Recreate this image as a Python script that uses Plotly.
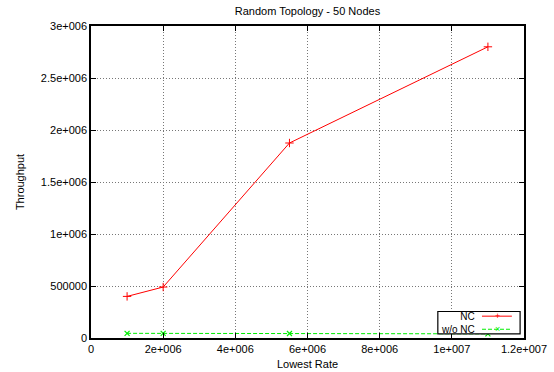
import plotly.graph_objects as go

rates = [1e6, 2e6, 5.5e6, 1.1e7]
nc = [400000, 490000, 1875000, 2800000]
wo_nc = [45000, 45000, 43000, 40000]

x_ticks = [0, 2e6, 4e6, 6e6, 8e6, 1e7, 1.2e7]
x_ticktext = ["0", "2e+006", "4e+006", "6e+006", "8e+006", "1e+007", "1.2e+007"]
y_ticks = [0, 5e5, 1e6, 1.5e6, 2e6, 2.5e6, 3e6]
y_ticktext = ["0", "500000", "1e+006", "1.5e+006", "2e+006", "2.5e+006", "3e+006"]

font = "Liberation Sans, Arial, sans-serif"

fig = go.Figure()
fig.add_trace(go.Scatter(
    x=rates, y=nc, mode="lines+markers", name="NC",
    line=dict(color="#ff0000", width=1),
    marker=dict(symbol="cross-thin-open", size=6, line=dict(color="#ff0000", width=1)),
    showlegend=False))
fig.add_trace(go.Scatter(
    x=rates, y=wo_nc, mode="lines+markers", name="w/o NC",
    line=dict(color="#00ee00", width=1, dash="4px,2px"),
    marker=dict(symbol="x-thin-open", size=5, line=dict(color="#00ee00", width=1.2)),
    showlegend=False))

axis_common = dict(
    showline=True, linecolor="black", linewidth=1.5, mirror="ticks",
    ticks="inside", ticklen=5, tickcolor="black", tickwidth=1,
    showgrid=True, gridcolor="#777777", griddash="1px,2px", gridwidth=1,
    zeroline=False, automargin=False,
    tickfont=dict(family=font, size=11, color="black"),
)

fig.update_xaxes(range=[0, 1.2e7], tickvals=x_ticks, ticktext=x_ticktext,
                 title=dict(text="Lowest Rate", font=dict(family=font, size=11, color="black"), standoff=6),
                 **axis_common)
fig.update_yaxes(range=[0, 3e6], tickvals=y_ticks, ticktext=y_ticktext,
                 title=dict(text="Throughput", font=dict(family=font, size=11, color="black"), standoff=14),
                 **axis_common)

# gnuplot-style key box (text then sample)
legend_names = ["NC", "w/o NC"]
legend_colors = ["#ff0000", "#00ee00"]
legend_dashes = ["solid", "4px,2px"]
legend_syms = ["+", "×"]
key_x0, key_x1 = 0.801, 0.991
key_y0, key_y1 = 0.013, 0.085
row_y = [0.070, 0.028]
fig.add_shape(type="rect", xref="paper", yref="paper", x0=key_x0, x1=key_x1, y0=key_y0, y1=key_y1,
              line=dict(color="black", width=1.2), fillcolor="white", layer="above")
fig.add_annotation(x=0.888, y=(key_y0 + key_y1) / 2, xref="paper", yref="paper",
                   text="<br>".join(legend_names), showarrow=False, align="right",
                   xanchor="right", yanchor="middle", borderpad=0,
                   font=dict(family=font, size=10, color="black"))
for yy, color, dash, sym in zip(row_y, legend_colors, legend_dashes, legend_syms):
    fig.add_shape(type="line", xref="paper", yref="paper", x0=0.903, x1=0.972, y0=yy, y1=yy,
                  line=dict(color=color, width=1, dash=dash), layer="above")
    fig.add_annotation(x=0.938, y=yy, xref="paper", yref="paper", text=sym, showarrow=False,
                       xanchor="center", yanchor="middle", borderpad=0,
                       font=dict(family=font, size=9, color=color))

fig.update_layout(
    width=554, height=372,
    margin=dict(l=91, r=30, t=26, b=34),
    paper_bgcolor="white", plot_bgcolor="white",
    title=dict(text="Random Topology - 50 Nodes", x=0.555, xanchor="center",
               y=0.97, yanchor="middle", font=dict(family=font, size=11, color="black")),
)

fig.write_html("out.html")
